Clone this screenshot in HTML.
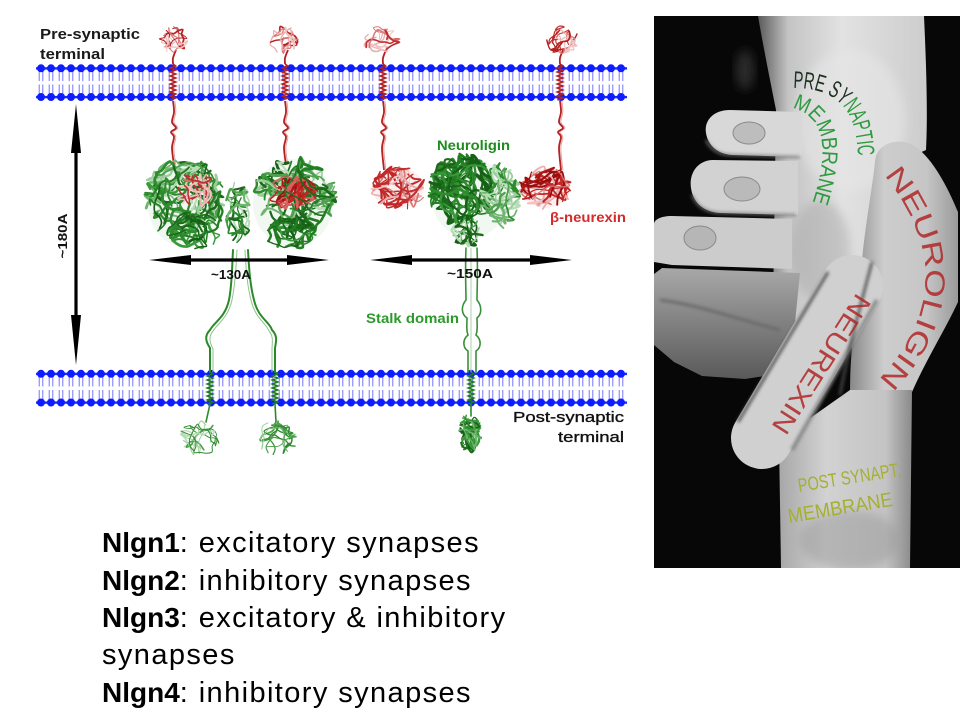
<!DOCTYPE html>
<html><head><meta charset="utf-8">
<style>
html,body{margin:0;padding:0;background:#fff;}
body{width:960px;height:720px;position:relative;overflow:hidden;font-family:"Liberation Sans",Arial,sans-serif;}
svg{position:absolute;left:0;top:0;}
.ln{position:absolute;left:102px;font-size:29px;line-height:37.5px;height:37.5px;color:#000;letter-spacing:1.4px;white-space:nowrap;}
.ln b{font-size:28px;letter-spacing:0;}
</style></head><body>
<svg id="dg" width="960" height="720" viewBox="0 0 960 720" font-family="Liberation Sans, Arial, sans-serif">
<defs>
  <pattern id="mem" patternUnits="userSpaceOnUse" x="0" y="0" width="10" height="38">
    <line x1="3.2" y1="7" x2="3.2" y2="17" stroke="#7474ff" stroke-width="1"/>
    <line x1="6.8" y1="7" x2="6.8" y2="17" stroke="#7474ff" stroke-width="1"/>
    <line x1="3.2" y1="20.5" x2="3.2" y2="30.5" stroke="#7474ff" stroke-width="1"/>
    <line x1="6.8" y1="20.5" x2="6.8" y2="30.5" stroke="#7474ff" stroke-width="1"/>
    <rect x="0" y="3.2" width="10" height="2.4" fill="#1a2cff"/>
    <rect x="0" y="31.9" width="10" height="2.4" fill="#1a2cff"/>
    <circle cx="5" cy="4.3" r="4" fill="#0d1dff"/>
    <circle cx="5" cy="33" r="4" fill="#0d1dff"/>
  </pattern>
  <linearGradient id="gBack" gradientUnits="userSpaceOnUse" x1="758" y1="0" x2="926" y2="0">
    <stop offset="0" stop-color="#5a5a5a"/><stop offset="0.18" stop-color="#c4c4c4"/>
    <stop offset="0.5" stop-color="#e2e2e2"/><stop offset="1" stop-color="#cdcdcd"/>
  </linearGradient>
  <linearGradient id="gThumb" gradientUnits="userSpaceOnUse" x1="852" y1="0" x2="958" y2="0">
    <stop offset="0" stop-color="#8c8c8c"/><stop offset="0.3" stop-color="#cdcdcd"/>
    <stop offset="0.7" stop-color="#c6c6c6"/><stop offset="1" stop-color="#9a9a9a"/>
  </linearGradient>
  <linearGradient id="gWrist" gradientUnits="userSpaceOnUse" x1="780" y1="0" x2="912" y2="0">
    <stop offset="0" stop-color="#a8a8a8"/><stop offset="0.35" stop-color="#d2d2d2"/>
    <stop offset="0.8" stop-color="#c4c4c4"/><stop offset="1" stop-color="#8a8a8a"/>
  </linearGradient>
  <linearGradient id="gF4" gradientUnits="userSpaceOnUse" x1="0" y1="268" x2="0" y2="378">
    <stop offset="0" stop-color="#a8a8a8"/><stop offset="1" stop-color="#5a5a5a"/>
  </linearGradient>
  <filter id="bl" x="-20%" y="-20%" width="140%" height="140%"><feGaussianBlur stdDeviation="5"/></filter>
  <filter id="bl2" x="-20%" y="-20%" width="140%" height="140%"><feGaussianBlur stdDeviation="1.5"/></filter>
  <clipPath id="pc"><rect x="654" y="16" width="306" height="552"/></clipPath>
  <path id="pNL" d="M884,175 Q975,290 866,392"/>
  <path id="pNX" d="M857,292 L765,436"/>
  <path id="pPre" d="M793,88 C840,88 858,112 858,162"/>
  <path id="pMem" d="M792,108 Q840,120 812,204"/>
  <path id="pPost" d="M799,492 L906,475"/>
  <path id="pPost2" d="M789,523 L898,505"/>
</defs>

<!-- membranes -->
<g transform="translate(36,64)"><rect x="0" y="0" width="591" height="38" fill="url(#mem)"/></g>
<g transform="translate(36,369.5)"><rect x="0" y="0" width="591" height="38" fill="url(#mem)"/></g>

<!-- faint tints -->
<g opacity="0.06">
  <ellipse cx="186" cy="205" rx="38" ry="42" fill="#2a8a2a"/>
  <ellipse cx="293" cy="203" rx="40" ry="44" fill="#2a8a2a"/>
  <ellipse cx="470" cy="198" rx="38" ry="40" fill="#2a8a2a"/>
  <ellipse cx="398" cy="188" rx="26" ry="20" fill="#b01515"/>
  <ellipse cx="546" cy="188" rx="24" ry="20" fill="#b01515"/>
</g>

<!-- static green stalks -->
<g fill="none" stroke-linecap="round">
  <path d="M233,250 C232,268 232,285 229,300 C225,318 214,322 210,330 C204,336 206,342 210,348 L210,372" stroke="#2a8a2a" stroke-width="2"/>
  <path d="M237,250 C236,268 235,285 232,300 C228,318 218,323 213,331 C208,337 210,343 213,349 L213,372" stroke="#8cc48c" stroke-width="1"/>
  <path d="M248,250 C249,268 250,285 254,300 C258,318 270,322 272,330 C278,336 276,342 275,348 L275,372" stroke="#2a8a2a" stroke-width="2"/>
  <path d="M245,250 C246,268 247,285 251,300 C255,318 266,323 269,331 C274,337 272,343 272,349 L272,372" stroke="#8cc48c" stroke-width="1"/>
  <path d="M466,248 C465,270 466,290 466,300 C461,306 461,314 467,318 C467,325 466,330 468,335 C462,340 463,348 468,351 L468,372" stroke="#3a8f3a" stroke-width="1.6"/>
  <path d="M477,248 C478,270 477,290 477,300 C482,306 482,314 477,318 C477,325 478,330 476,335 C482,340 481,348 476,351 L476,372" stroke="#3a8f3a" stroke-width="1.6"/>
  <path d="M471,248 L471,372" stroke="#a9d3a9" stroke-width="1"/>
  <path d="M210,404 L206,422" stroke="#2a8a2a" stroke-width="1.6"/>
  <path d="M275,404 L276,422" stroke="#2a8a2a" stroke-width="1.6"/>
  <path d="M471,404 L471,416" stroke="#2a8a2a" stroke-width="1.6"/>
</g>

<g id="prot"></g>

<!-- arrows -->
<g fill="#000">
  <polygon points="76,104 81,153 77.6,153 77.6,315 81,315 76,365 71,315 74.4,315 74.4,153 71,153"/>
  <polygon points="149,260 191,255 191,258.4 287,258.4 287,255 329,260 287,265 287,261.6 191,261.6 191,265"/>
  <polygon points="370,260 412,255 412,258.4 530,258.4 530,255 572,260 530,265 530,261.6 412,261.6 412,265"/>
</g>

<!-- labels -->
<g font-weight="bold">
  <text x="40" y="39" font-size="15" fill="#1a1a1a" textLength="100" lengthAdjust="spacingAndGlyphs">Pre-synaptic</text>
  <text x="40" y="59" font-size="15" fill="#1a1a1a" textLength="65" lengthAdjust="spacingAndGlyphs">terminal</text>
  <text x="437" y="150" font-size="14" fill="#1e8c1e" textLength="73" lengthAdjust="spacingAndGlyphs">Neuroligin</text>
  <text x="550" y="222" font-size="14" fill="#d42a2a" textLength="76" lengthAdjust="spacingAndGlyphs">β-neurexin</text>
  <text x="211" y="279" font-size="13" fill="#111" textLength="40" lengthAdjust="spacingAndGlyphs">~130A</text>
  <text x="447" y="278" font-size="13" fill="#111" textLength="46" lengthAdjust="spacingAndGlyphs">~150A</text>
  <text x="366" y="323" font-size="14" fill="#2a9a2a" textLength="93" lengthAdjust="spacingAndGlyphs">Stalk domain</text>
  <text transform="translate(67,236) rotate(-90)" x="0" y="0" text-anchor="middle" font-size="13" fill="#111" textLength="45" lengthAdjust="spacingAndGlyphs">~180A</text>
</g>
<text x="513" y="422" font-size="15" fill="#111" stroke="#111" stroke-width="0.35" textLength="111" lengthAdjust="spacingAndGlyphs">Post-synaptic</text>
<text x="558" y="442" font-size="15" fill="#111" stroke="#111" stroke-width="0.35" textLength="66" lengthAdjust="spacingAndGlyphs">terminal</text>

<!-- photo -->
<g clip-path="url(#pc)">
  <rect x="654" y="16" width="306" height="552" fill="#070707"/>
  <ellipse cx="745" cy="70" rx="9" ry="20" fill="#2c2c2c" filter="url(#bl)"/>
  <path d="M758,16 L924,16 C926,60 928,110 926,150 L880,170 L862,300 L800,392 L772,372 L776,110 C770,80 763,45 758,16 Z" fill="url(#gBack)"/>
  <ellipse cx="850" cy="120" rx="55" ry="70" fill="#e6e6e6" opacity="0.6" filter="url(#bl)"/>
  <ellipse cx="820" cy="250" rx="30" ry="50" fill="#a8a8a8" opacity="0.5" filter="url(#bl)"/>
  <path d="M802,112 L730,110 C712,110 704,122 706,133 C708,146 718,154 732,155 L802,157 Z" fill="#d8d8d8"/>
  <path d="M706,140 C712,152 722,155 732,155 L800,157" fill="none" stroke="#777" stroke-width="2" filter="url(#bl2)"/>
  <ellipse cx="749" cy="133" rx="16" ry="11" fill="#bdbdbd" stroke="#8a8a8a" stroke-width="1"/>
  <path d="M798,161 L712,160 C696,161 689,175 691,188 C693,203 704,212 720,213 L798,215 Z" fill="#d2d2d2"/>
  <path d="M692,195 C697,207 706,212 720,213 L796,215" fill="none" stroke="#777" stroke-width="2" filter="url(#bl2)"/>
  <ellipse cx="742" cy="189" rx="18" ry="12" fill="#bababa" stroke="#8a8a8a" stroke-width="1"/>
  <path d="M792,219 L672,216 C660,216 654,220 654,224 L654,262 L672,265 L792,269 Z" fill="#cccccc"/>
  <ellipse cx="700" cy="238" rx="16" ry="12" fill="#b6b6b6" stroke="#888" stroke-width="1"/>
  <path d="M800,273 L662,268 L654,274 L654,345 L674,362 L702,376 L745,379 L790,372 Z" fill="url(#gF4)"/>
  <path d="M660,300 C700,305 740,320 780,330" fill="none" stroke="#6a6a6a" stroke-width="3" filter="url(#bl2)"/>
  <path d="M875,162 C876,146 890,140 905,142 C925,146 945,180 958,212 L958,302 C945,330 926,360 912,392 L850,395 C850,340 858,300 862,260 C866,220 872,190 875,162 Z" fill="url(#gThumb)"/>
  <path d="M779,440 L850,390 L912,390 L910,568 L781,568 Z" fill="url(#gWrist)"/>
  <ellipse cx="850" cy="540" rx="50" ry="30" fill="#9a9a9a" opacity="0.5" filter="url(#bl)"/>
  <path d="M852,286 L762,438" stroke="#d0d0d0" stroke-width="62" stroke-linecap="round"/>
  <path d="M828,272 L738,422" stroke="#555" stroke-width="3" filter="url(#bl2)"/>
  <path d="M877,300 L792,450" stroke="#8a8a8a" stroke-width="4" filter="url(#bl2)"/>
  <path d="M872,262 C862,300 848,350 840,395" fill="none" stroke="#4a4a4a" stroke-width="2.5" filter="url(#bl2)"/>
  <text font-size="24"><textPath href="#pPre" textLength="108" lengthAdjust="spacingAndGlyphs"><tspan fill="#1e3020">PRE SY</tspan><tspan fill="#2f9a3f">NAPTIC</tspan></textPath></text>
  <text font-size="22" fill="#2f9a3f"><textPath href="#pMem" textLength="110" lengthAdjust="spacingAndGlyphs">MEMBRANE</textPath></text>
  <text font-size="28" fill="#b02828" opacity="0.85"><textPath href="#pNL" textLength="228" lengthAdjust="spacingAndGlyphs">NEUROLIGIN</textPath></text>
  <text font-size="26" fill="#b02828" opacity="0.85"><textPath href="#pNX" textLength="160" lengthAdjust="spacingAndGlyphs">NEUREXIN</textPath></text>
  <text font-size="19" fill="#a4b032"><textPath href="#pPost" textLength="104" lengthAdjust="spacingAndGlyphs">POST SYNAPT,</textPath></text>
  <text font-size="20" fill="#a4b032"><textPath href="#pPost2" textLength="106" lengthAdjust="spacingAndGlyphs">MEMBRANE</textPath></text>
</g>
</svg>

<div class="ln" style="top:524px"><b>Nlgn1</b>: excitatory synapses</div>
<div class="ln" style="top:561.5px"><b>Nlgn2</b>: inhibitory synapses</div>
<div class="ln" style="top:599px"><b>Nlgn3</b>: excitatory &amp; inhibitory</div>
<div class="ln" style="top:636.5px">synapses</div>
<div class="ln" style="top:674px"><b>Nlgn4</b>: inhibitory synapses</div>

<script>
(function(){
var NS='http://www.w3.org/2000/svg';
var prot=document.getElementById('prot');
var seed=424242;
function R(){seed=(seed*16807)%2147483647;return (seed-1)/2147483646;}
function P(p){
  var d='M'+p[0][0].toFixed(1)+' '+p[0][1].toFixed(1);
  for(var i=0;i<p.length-1;i++){
    var p0=p[i-1]||p[i],p1=p[i],p2=p[i+1],p3=p[i+2]||p2;
    d+='C'+(p1[0]+(p2[0]-p0[0])/6).toFixed(1)+' '+(p1[1]+(p2[1]-p0[1])/6).toFixed(1)+' '+
       (p2[0]-(p3[0]-p1[0])/6).toFixed(1)+' '+(p2[1]-(p3[1]-p1[1])/6).toFixed(1)+' '+
       p2[0].toFixed(1)+' '+p2[1].toFixed(1);
  }
  return d;
}
function el(tag,a){var e=document.createElementNS(NS,tag);for(var k in a)e.setAttribute(k,a[k]);prot.appendChild(e);return e;}
function blob(cx,cy,rx,ry,n,cols,sw,segs,step,turn){
  turn=turn||1.6;
  for(var i=0;i<n;i++){
    var a=R()*6.283,r=Math.sqrt(R());
    var x=cx+Math.cos(a)*rx*r,y=cy+Math.sin(a)*ry*r;
    var ang=R()*6.283,pts=[[x,y]];
    for(var k=0;k<segs;k++){
      ang+=(R()-0.5)*turn;
      var nx=x+Math.cos(ang)*step,ny=y+Math.sin(ang)*step;
      var dx=(nx-cx)/rx,dy=(ny-cy)/ry;
      if(dx*dx+dy*dy>1){ang=Math.atan2(cy-y,cx-x)+(R()-0.5)*2.2;nx=x+Math.cos(ang)*step;ny=y+Math.sin(ang)*step;}
      x=nx;y=ny;pts.push([x,y]);
    }
    el('path',{d:P(pts),fill:'none',stroke:cols[Math.floor(R()*cols.length)],'stroke-width':(sw*(0.6+R()*0.7)).toFixed(2),'stroke-linecap':'round','stroke-linejoin':'round'});
  }
}
function helix(x,y0,y1,col){
  var z='M'+x+' '+y0;
  for(var y=y0+2,s=1;y<=y1;y+=2,s=-s) z+=' L'+(x+2.6*s)+' '+y;
  el('path',{d:z,stroke:col,'stroke-width':1.7,fill:'none'});
}
function stalk(x,yEnd,col){
  el('path',{d:P([[x+3,50],[x,58],[x,64]]),stroke:col,'stroke-width':1.8,fill:'none'});
  helix(x,64,101,col);
  var bot=[[x,101],[x+1,112],[x-1,122],[x+3,128],[x-2,132],[x+1,137],[x-1,148],[x+1,yEnd]];
  el('path',{d:P(bot.map(function(p){return [p[0]+1.8,p[1]];})),stroke:'#e3a0a0','stroke-width':1,fill:'none'});
  el('path',{d:P(bot),stroke:col,'stroke-width':1.8,fill:'none'});
}
var Gd=['#1b6b1b','#237d23','#2e8b2e','#176017','#3a9a3a'];
var Gl=['#6fb56f','#9ccc9c','#4fa04f','#2e8b2e','#b8dcb8'];
var Rd=['#b01515','#c42525','#9c0e0e'];
var Rp=['#eab0b0','#d87878','#c03030','#f0c4c4'];
var RR=Rd.concat(Rp), GG=Gd.concat(Gl);
stalk(173,165,'#b52020'); stalk(285,165,'#b52020'); stalk(383,170,'#b52020'); stalk(560,170,'#b52020');
// neurexin heads (loose)
blob(173,40,15,14,8,Rp.concat(['#b52020']),1.4,9,5,1.8);
blob(284,40,15,14,8,Rp.concat(['#b52020']),1.4,9,5,1.8);
blob(381,40,19,14,9,Rp.concat(['#b52020']),1.4,9,5,1.8);
blob(561,40,18,14,9,Rp.concat(['#b52020']),1.4,9,5,1.8);
// left complex lobes
blob(184,196,41,38,42,GG,2.3,10,6);
blob(194,232,27,18,14,Gd,2.2,8,6);
blob(295,196,42,40,42,GG,2.3,10,6);
blob(291,232,27,18,14,Gd,2.2,8,6);
blob(238,212,13,32,14,GG,1.8,8,6);
blob(197,190,22,18,12,Rp,1.7,8,5);
blob(293,193,25,18,20,Rd.concat(['#d86060']),2.1,8,6,1.2);
blob(186,205,38,40,8,Gd,2,8,6);
blob(295,205,38,40,6,Gd,2,8,6);
// right complex
blob(399,188,29,22,20,RR,1.8,9,7,1.2);
blob(545,188,27,22,20,RR,1.8,9,7,1.2);
blob(462,190,34,37,52,Gd,2.4,10,6);
blob(500,196,21,33,22,Gl,2.1,8,6);
blob(468,232,17,15,12,GG,2,7,5);
// membrane helices
helix(210,372,404,'#1f7a1f'); helix(275,372,404,'#1f7a1f'); helix(471,372,404,'#1f7a1f');
// intracellular (loose)
blob(200,438,21,18,9,Gl.concat(['#2e8b2e']),1.4,10,6,1.8);
blob(278,438,21,18,9,Gl.concat(['#2e8b2e']),1.4,10,6,1.8);
blob(470,433,12,20,22,Gd.concat(['#6fb56f']),1.7,7,5);
})();
</script>
</body></html>
